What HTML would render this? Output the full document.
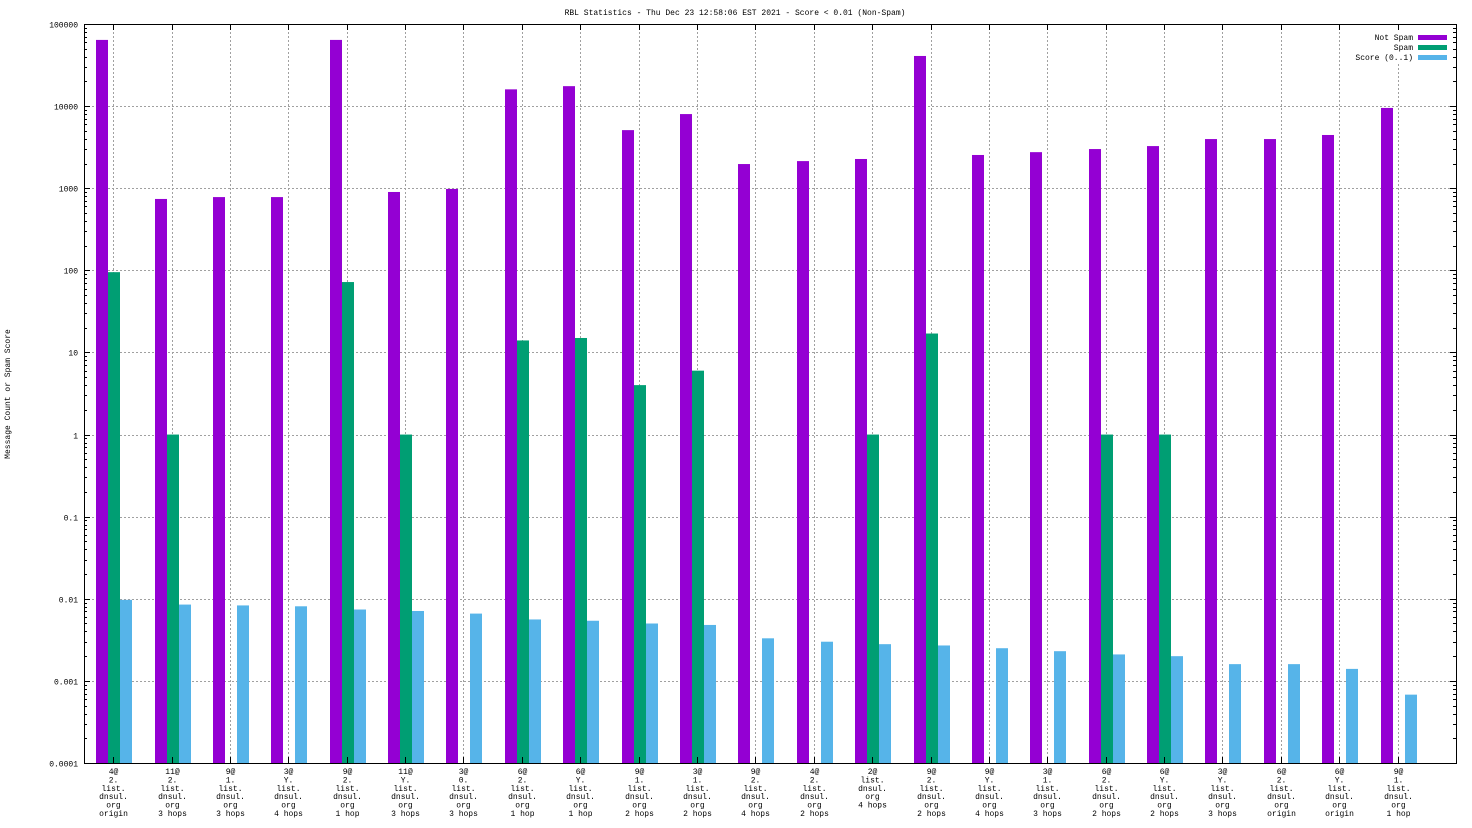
<!DOCTYPE html>
<html><head><meta charset="utf-8">
<style>
html,body{margin:0;padding:0;background:#fff;}
svg{display:block;}
text{font-family:"Liberation Mono","DejaVu Sans Mono",monospace;font-size:8px;fill:#000;}
</style></head>
<body>
<svg id="chart" width="1472" height="828" xmlns="http://www.w3.org/2000/svg">
<rect x="0" y="0" width="1472" height="828" fill="#fff"/>
<text x="735" y="15" text-anchor="middle">RBL Statistics - Thu Dec 23 12:58:06 EST 2021 - Score &lt; 0.01 (Non-Spam)</text>
<text transform="translate(10,394) rotate(-90)" text-anchor="middle">Message Count or Spam Score</text>
<g id="grid"></g>
<g id="bars"></g>
<g id="axes"></g>
<g id="legend"></g>
</svg>
<script>
const categories = [
 ["4@","2.","list.","dnsul.","org","origin"],
 ["11@","2.","list.","dnsul.","org","3 hops"],
 ["9@","1.","list.","dnsul.","org","3 hops"],
 ["3@","Y.","list.","dnsul.","org","4 hops"],
 ["9@","2.","list.","dnsul.","org","1 hop"],
 ["11@","Y.","list.","dnsul.","org","3 hops"],
 ["3@","0.","list.","dnsul.","org","3 hops"],
 ["6@","2.","list.","dnsul.","org","1 hop"],
 ["6@","Y.","list.","dnsul.","org","1 hop"],
 ["9@","1.","list.","dnsul.","org","2 hops"],
 ["3@","1.","list.","dnsul.","org","2 hops"],
 ["9@","2.","list.","dnsul.","org","4 hops"],
 ["4@","2.","list.","dnsul.","org","2 hops"],
 ["2@","list.","dnsul.","org","4 hops"],
 ["9@","2.","list.","dnsul.","org","2 hops"],
 ["9@","Y.","list.","dnsul.","org","4 hops"],
 ["3@","1.","list.","dnsul.","org","3 hops"],
 ["6@","2.","list.","dnsul.","org","2 hops"],
 ["6@","Y.","list.","dnsul.","org","2 hops"],
 ["3@","Y.","list.","dnsul.","org","3 hops"],
 ["6@","2.","list.","dnsul.","org","origin"],
 ["6@","Y.","list.","dnsul.","org","origin"],
 ["9@","1.","list.","dnsul.","org","1 hop"]
];
const notSpam = [64000,740,780,780,64000,900,980,16000,17500,5100,8000,1970,2140,2270,40800,2540,2750,3000,3260,3970,3970,4450,9500];
const spam = [95,1,0,0,72,1,0,14,15,4,6,0,0,1,17,0,0,1,1,0,0,0,0];
const score = [0.0097,0.0085,0.0083,0.0081,0.0074,0.0071,0.0066,0.0056,0.0054,0.0050,0.0048,0.0033,0.0030,0.0028,0.0027,0.0025,0.0023,0.0021,0.0020,0.0016,0.0016,0.0014,0.00068];
const yTickLabels = ["0.0001","0.001","0.01","0.1","1","10","100","1000","10000","100000"];
const yTickValues = [0.0001,0.001,0.01,0.1,1,10,100,1000,10000,100000];

const NS="http://www.w3.org/2000/svg";
const L=84,R=1456,T=24,B=763;
const yMin=-4,yMax=5;
function y(v){return B-(Math.log10(v)-yMin)/(yMax-yMin)*(B-T);}
const step=(R-L)/23.5;
function x(i){return L+step*(i+0.5);}
function mk(tag,attrs,parent){const e=document.createElementNS(NS,tag);for(const k in attrs)e.setAttribute(k,attrs[k]);parent.appendChild(e);return e;}
const grid=document.getElementById('grid'),bars=document.getElementById('bars'),axes=document.getElementById('axes'),legend=document.getElementById('legend');

yTickValues.forEach((v,i)=>{
  const yy=Math.round(y(v))+0.5;
  if(i>0&&i<yTickValues.length-1){
    const g=mk('line',{x1:L,x2:R,y1:yy,y2:yy,stroke:'#a0a0a0','stroke-dasharray':'2,2','stroke-width':1},grid);
    
    
  }
  const t=mk('text',{x:L-6,y:yy+3,'text-anchor':'end'},axes);
  t.textContent=yTickLabels[i];
  
  
  mk('line',{x1:L,x2:L+6,y1:yy,y2:yy,stroke:'#000'},axes);
  mk('line',{x1:R-6,x2:R,y1:yy,y2:yy,stroke:'#000'},axes);
  if(i<yTickValues.length-1){
    for(let m=2;m<10;m++){
      const ym=Math.round(y(v*m))+0.5;
      mk('line',{x1:L,x2:L+3,y1:ym,y2:ym,stroke:'#000'},axes);
      mk('line',{x1:R-3,x2:R,y1:ym,y2:ym,stroke:'#000'},axes);
    }
  }
});

categories.forEach((c,i)=>{
  const cx=Math.round(x(i))+0.5;
  const g=mk('line',{x1:cx,x2:cx,y1:T,y2:B,stroke:'#a0a0a0','stroke-dasharray':'2,2'},grid);
  
  
  mk('line',{x1:cx,x2:cx,y1:B-6,y2:B,stroke:'#000'},axes);
  mk('line',{x1:cx,x2:cx,y1:T,y2:T+6,stroke:'#000'},axes);
  const t=mk('text',{'text-anchor':'middle'},axes);
  
  
  c.forEach((line,j)=>{const s=mk('tspan',{x:cx,y:774+j*8.4},t);s.textContent=line;});
  const base=B;
  const series=[[notSpam[i],'#9400d3',-17,'bar-not-spam'],[spam[i],'#009e73',-5,'bar-spam'],[score[i],'#56b4e9',7,'bar-score']];
  series.forEach(s=>{
    if(s[0]>0){
      const top=y(s[0]);
      const r=mk('rect',{x:Math.round(x(i))+s[2],y:top,width:12,height:Math.max(0,base-top),fill:s[1]},bars);
      
      
    }
  });
});

mk('rect',{x:L+0.5,y:T+0.5,width:R-L,height:B-T,fill:'none',stroke:'#000'},axes);

const legItems=[["Not Spam","#9400d3"],["Spam","#009e73"],["Score (0..1)","#56b4e9"]];
mk('rect',{x:1340,y:30,width:112,height:34,fill:'#fff'},legend);
legItems.forEach((it,i)=>{
  const yy=37+i*10;
  const t=mk('text',{x:1413,y:yy+3,'text-anchor':'end'},legend);
  t.textContent=it[0];
  
  
  const r=mk('rect',{x:1418,y:yy-2,width:29,height:5,fill:it[1]},legend);
  
  
});
</script>
</body></html>
